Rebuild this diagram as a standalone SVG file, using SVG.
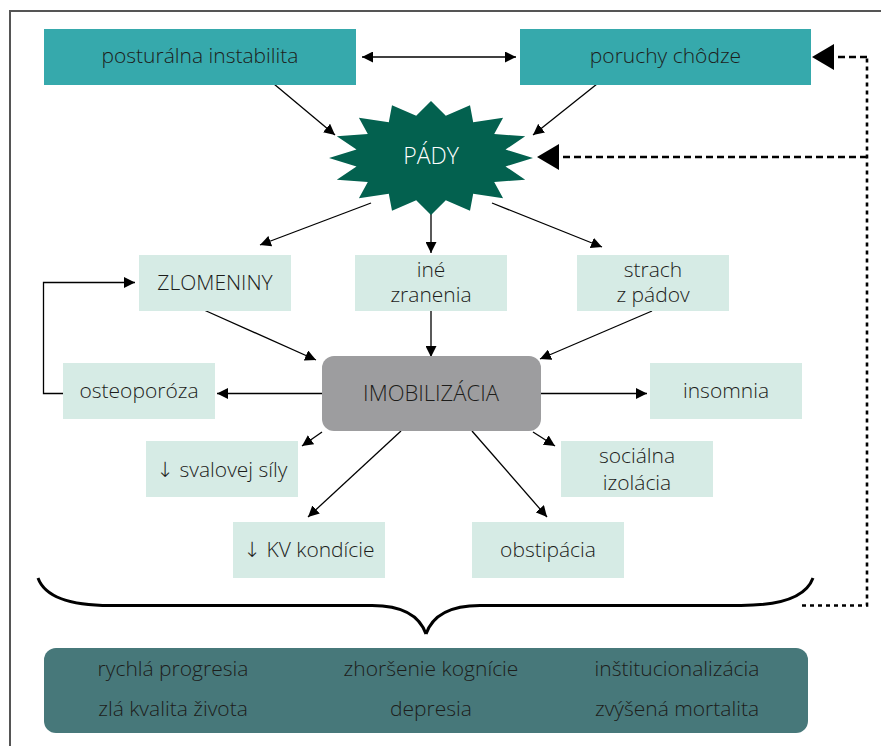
<svg xmlns="http://www.w3.org/2000/svg" width="881" height="746" viewBox="0 0 881 746">
<style>
text{font-family:"Open Sans","Noto Sans","DejaVu Sans",sans-serif;font-size:21px;font-weight:300;fill:#1d1d1b;text-anchor:middle}
.top{fill:#36a9ac}
.lt{fill:#d6ebe5}
.c{fill:none;stroke:#000;stroke-width:1.3}
.d{fill:none;stroke:#000;stroke-width:2.6}
</style>
<defs>
<marker id="a" markerUnits="userSpaceOnUse" markerWidth="11" markerHeight="11" refX="11" refY="5.5" orient="auto-start-reverse"><path d="M0,0 L11,5.5 L0,11 z" fill="#000"/></marker>
<marker id="b" markerUnits="userSpaceOnUse" markerWidth="22" markerHeight="26" refX="21" refY="13" orient="auto"><path d="M0,0 L22,13 L0,26 z" fill="#000"/></marker>
</defs>
<rect width="881" height="746" fill="#fff"/>
<path d="M10,760 L10,11 L890,11" fill="none" stroke="#555" stroke-width="2"/>

<g id="connectors">
<line class="c" x1="362" y1="57" x2="516" y2="57" marker-start="url(#a)" marker-end="url(#a)"/>
<line class="c" x1="274" y1="84" x2="335" y2="135" marker-end="url(#a)"/>
<line class="c" x1="597" y1="84" x2="533" y2="135" marker-end="url(#a)"/>
<line class="c" x1="371" y1="203" x2="260" y2="245" marker-end="url(#a)"/>
<line class="c" x1="431" y1="212" x2="431" y2="253" marker-end="url(#a)"/>
<line class="c" x1="492" y1="203" x2="602" y2="247" marker-end="url(#a)"/>
<line class="c" x1="204" y1="310" x2="316" y2="360" marker-end="url(#a)"/>
<line class="c" x1="431" y1="311" x2="431" y2="357" marker-end="url(#a)"/>
<line class="c" x1="652" y1="311" x2="540" y2="359" marker-end="url(#a)"/>
<line class="c" x1="322" y1="393.5" x2="217" y2="393.5" marker-end="url(#a)"/>
<polyline class="c" points="63,393.5 43.5,393.5 43.5,282.5 135,282.5" marker-end="url(#a)"/>
<line class="c" x1="541" y1="393.5" x2="647" y2="393.5" marker-end="url(#a)"/>
<line class="c" x1="322" y1="432" x2="302" y2="446" marker-end="url(#a)"/>
<line class="c" x1="401" y1="431" x2="308" y2="517" marker-end="url(#a)"/>
<line class="c" x1="472" y1="431" x2="547" y2="517" marker-end="url(#a)"/>
<line class="c" x1="533" y1="432" x2="555" y2="446" marker-end="url(#a)"/>
<path class="d" d="M802,605.5 L867,605.5 L867,57" stroke-dasharray="4 4"/>
<line class="d" x1="867" y1="57" x2="813" y2="57" stroke-dasharray="7 4" marker-end="url(#b)"/>
<line class="d" x1="867" y1="157" x2="538" y2="157" stroke-dasharray="7 4" marker-end="url(#b)"/>
<path d="M38,578 Q48,605.5 110,605.5 L372,605.5 Q416,605.5 426,634 M813,578 Q803,605.5 741,605.5 L480,605.5 Q436,605.5 426,634" fill="none" stroke="#000" stroke-width="3"/>
</g>

<g id="posturalna"><rect class="top" x="44" y="29" width="312" height="56"/><text x="200" y="63">posturálna instabilita</text></g>
<g id="poruchy"><rect class="top" x="520" y="29" width="291" height="56"/><text x="665.5" y="63">poruchy chôdze</text></g>
<g id="pady"><polygon fill="#03614f" points="431,101 445.8,115.8 470,105.3 473.2,122.2 503.1,117.7 494.2,134.1 525.2,136.2 505.5,149.6 533,158 505.5,166.4 525.2,179.8 494.2,181.9 503.1,198.3 473.2,193.8 470,210.7 445.8,200.2 431,215 416.2,200.2 392,210.7 388.8,193.8 358.9,198.3 367.8,181.9 336.8,179.8 356.5,166.4 329,158 356.5,149.6 336.8,136.2 367.8,134.1 358.9,117.7 388.8,122.2 392,105.3 416.2,115.8"/><text x="431" y="164" style="fill:#fff;font-size:23px">PÁDY</text></g>
<g id="zlomeniny"><rect class="lt" x="139" y="255" width="152" height="56"/><text x="215" y="290">ZLOMENINY</text></g>
<g id="ine"><rect class="lt" x="355" y="255" width="152" height="56"/><text x="431" y="277">iné</text><text x="431" y="302">zranenia</text></g>
<g id="strach"><rect class="lt" x="577" y="255" width="152" height="56"/><text x="653" y="277">strach</text><text x="653" y="302">z pádov</text></g>
<g id="imobilizacia"><rect x="322" y="356" width="219" height="75" rx="12" fill="#9d9d9f"/><text x="431" y="401" style="font-size:22px">IMOBILIZÁCIA</text></g>
<g id="osteoporoza"><rect class="lt" x="63" y="363" width="152" height="56"/><text x="139" y="398">osteoporóza</text></g>
<g id="insomnia"><rect class="lt" x="650" y="363" width="152" height="56"/><text x="726" y="398">insomnia</text></g>
<g id="svalovej"><rect class="lt" x="146" y="441" width="152" height="56"/><text x="222" y="477">↓ svalovej síly</text></g>
<g id="socialna"><rect class="lt" x="561" y="441" width="152" height="56"/><text x="637" y="463">sociálna</text><text x="637" y="490">izolácia</text></g>
<g id="kv"><rect class="lt" x="233" y="522" width="152" height="56"/><text x="309" y="557">↓ KV kondície</text></g>
<g id="obstipacia"><rect class="lt" x="472" y="522" width="152" height="56"/><text x="548" y="557">obstipácia</text></g>
<g id="dosledky"><rect x="44" y="648" width="764" height="85" rx="12" fill="#47787a"/>
<text x="173" y="676">rychlá progresia</text><text x="431" y="676">zhoršenie kognície</text><text x="677" y="676">inštitucionalizácia</text>
<text x="173" y="716">zlá kvalita života</text><text x="431" y="716">depresia</text><text x="677" y="716">zvýšená mortalita</text></g>
</svg>
